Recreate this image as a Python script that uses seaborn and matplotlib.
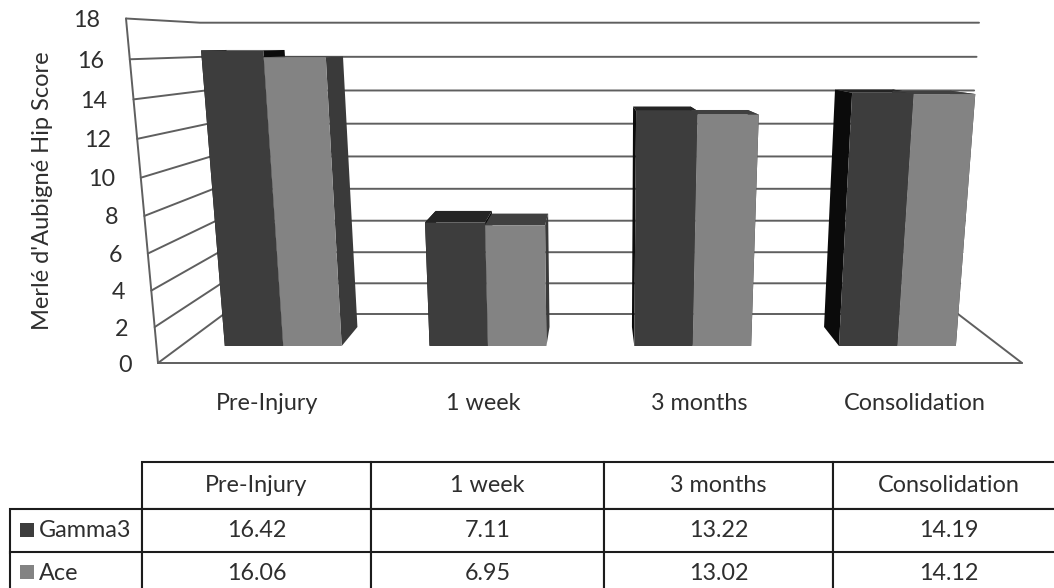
import numpy as np
import pandas as pd
import seaborn as sns
import matplotlib.pyplot as plt
from matplotlib.patches import Rectangle
from matplotlib.transforms import Affine2D, Transform

categories = ["Pre-Injury", "1 week", "3 months", "Consolidation"]
gamma3 = [16.42, 7.11, 13.22, 14.19]
ace = [16.06, 6.95, 13.02, 14.12]
series_names = ["Gamma3", "Ace"]
y_ticks = [0, 2, 4, 6, 8, 10, 12, 14, 16, 18]

W, H = 1054, 588
XMIN, XMAX, YMAX = -0.5, 3.5, 18

# corners of the 3D box in pixels: floor front, floor back, top front, top back
FLOOR_FRONT = np.array([[158, 363], [1022, 363]], float)
FLOOR_BACK = np.array([[224, 314], [958, 314]], float)
TOP_FRONT = np.array([[126, 18.5], [1054, 18.5]], float)
TOP_BACK = np.array([[200, 22.7], [979, 22.7]], float)

# depth of the bars inside the box (0 = front edge, 1 = back wall)
BAR_FRONT = 0.347
BAR_BACK = 0.735

DARK = "#3d3d3d"
GREY = "#838383"
LINE = "#5f5f5f"
TEXT = "#2e2e2e"
FONT = 16.8


def homography(plane):
    # unit square -> quad of the plane at this depth
    bl, br = FLOOR_FRONT + (FLOOR_BACK - FLOOR_FRONT) * plane
    tl, tr = TOP_FRONT + (TOP_BACK - TOP_FRONT) * plane
    src = [(0, 0), (1, 0), (0, 1), (1, 1)]
    dst = [bl, br, tl, tr]
    A, b = [], []
    for (u, v), (x, y) in zip(src, dst):
        A.append([u, v, 1, 0, 0, 0, -u * x, -v * x])
        A.append([0, 0, 0, u, v, 1, -u * y, -v * y])
        b += [x, y]
    return np.append(np.linalg.solve(np.array(A), np.array(b)), 1).reshape(3, 3)


def project(x, y, plane):
    u = (np.asarray(x, float) - XMIN) / (XMAX - XMIN)
    v = np.asarray(y, float) / YMAX
    M = homography(plane)
    d = M[2, 0] * u + M[2, 1] * v + M[2, 2]
    return (M[0, 0] * u + M[0, 1] * v + M[0, 2]) / d, (M[1, 0] * u + M[1, 1] * v + M[1, 2]) / d


class PlaneTransform(Transform):
    # data coordinates -> pixels of the reference, on the plane at one depth
    input_dims = output_dims = 2

    def __init__(self, plane):
        super().__init__()
        self.plane = plane

    def transform_non_affine(self, values):
        px, py = project(values[:, 0], values[:, 1], self.plane)
        return np.column_stack([px, py])


df = pd.DataFrame({"cat": categories * 2,
                   "series": [series_names[0]] * 4 + [series_names[1]] * 4,
                   "score": gamma3 + ace})

sns.set_theme(style="white")
plt.rcParams["font.family"] = ["Lato", "DejaVu Sans"]

fig = plt.figure(figsize=(W / 100, H / 100), dpi=100)
ax = fig.add_axes([0, 0, 1, 1])
ax.axis("off")

sns.barplot(data=df, x="cat", y="score", hue="series", order=categories,
            hue_order=series_names, palette=[DARK, GREY], width=0.571, gap=0,
            saturation=1, legend=False, ax=ax)
ax.set_xlim(XMIN, XMAX)
ax.set_ylim(0, YMAX)

# pixels of the reference (y down) -> figure
pixels = Affine2D().scale(1 / W, -1 / H).translate(0, 1) + fig.transFigure

# back wall and left wall lines
for tick in y_ticks:
    x0, y0 = project(XMIN, tick, 1)
    x1, y1 = project(XMAX, tick, 1)
    x2, y2 = project(XMIN, tick, 0)
    ax.plot([x2, x0, x1], [y2, y0, y1], color=LINE, lw=1.4, transform=pixels, clip_on=False, zorder=1)
    ax.text(x2 - 26, y2 + 2, str(tick), ha="right", va="center", fontsize=FONT, color=TEXT,
            transform=pixels)

# left wall front edge and floor
fx, fy = project([XMIN, XMIN], [0, YMAX], 0)
ax.plot(fx, fy, color=LINE, lw=1.4, transform=pixels, clip_on=False, zorder=1)
fx, fy = project([XMIN, XMAX, XMAX], [0, 0, 0], 0)
ax.plot(fx, fy, color=LINE, lw=1.4, transform=pixels, clip_on=False, zorder=1)
bx, by = project(XMAX, 0, 1)
ax.plot([fx[-1], bx], [fy[-1], by], color=LINE, lw=1.4, transform=pixels, clip_on=False, zorder=1)

# faces behind the front of each bar
side_colors = ["#0b0b0b", "#3a3a3a"]
top_colors = ["#242424", "#404040"]
for k, container in enumerate(ax.containers):
    for bar in container:
        x0, x1, h = bar.get_x(), bar.get_x() + bar.get_width(), bar.get_height()
        for xs in (x0, x1):
            a = project([xs, xs], [0, h], BAR_FRONT)
            b = project([xs, xs], [h, 0], BAR_BACK)
            ax.fill(np.r_[a[0], b[0]], np.r_[a[1], b[1]], color=side_colors[k], lw=0,
                    transform=pixels, clip_on=False, zorder=2 + k)
        a = project([x0, x1], [h, h], BAR_FRONT)
        b = project([x1, x0], [h, h], BAR_BACK)
        ax.fill(np.r_[a[0], b[0]], np.r_[a[1], b[1]], color=top_colors[k], lw=0,
                transform=pixels, clip_on=False, zorder=2 + k)
        bar.set_transform(PlaneTransform(BAR_FRONT) + pixels)
        bar.set_clip_on(False)
        bar.set_linewidth(0)
        bar.set_zorder(5)

# category labels under the floor
for i, cat in enumerate(categories):
    lx, _ = project(i, 0, 0)
    ax.text(lx + 1, 404, cat, ha="center", va="center", fontsize=FONT, color=TEXT, transform=pixels)

ax.text(43, 191, "Merlé d'Aubigné Hip Score", rotation=90, ha="center", va="center",
        fontsize=17, color=TEXT, transform=pixels)

# data table under the chart, it runs off the right and bottom of the picture
tab_left, tab_right, tab_top, tab_bottom = 10, 1064, 462, 594
col_edges = [10, 142, 371, 604, 833, 1064]
row_heights = [47, 43.5, 41.5]
tab_ax = fig.add_axes([tab_left / W, 1 - tab_bottom / H, (tab_right - tab_left) / W, (tab_bottom - tab_top) / H])
tab_ax.axis("off")
rows = [[""] + categories,
        [series_names[0]] + [f"{v:.2f}" for v in gamma3],
        [series_names[1]] + [f"{v:.2f}" for v in ace]]
widths = [(b - a) / (tab_right - tab_left) for a, b in zip(col_edges, col_edges[1:])]
table = tab_ax.table(cellText=rows, colWidths=widths, cellLoc="center", bbox=[0, 0, 1, 1])
table.auto_set_font_size(False)
for (r, c), cell in table.get_celld().items():
    cell.set_height(row_heights[r] / sum(row_heights))
    cell.set_linewidth(1.5)
    cell.set_edgecolor("#1c1c1c")
    cell.get_text().set_fontsize(FONT)
    cell.get_text().set_color(TEXT)
    if c == 0:
        cell.set_text_props(ha="left")
        cell.PAD = 0.22
table[(0, 0)].set_visible(False)

for colour, y_key in zip([DARK, GREY], [530, 572]):
    fig.add_artist(Rectangle((20 / W, 1 - (y_key + 7) / H), 14 / W, 14 / H, color=colour, lw=0,
                             transform=fig.transFigure))

fig.savefig("out.png", dpi=100)
